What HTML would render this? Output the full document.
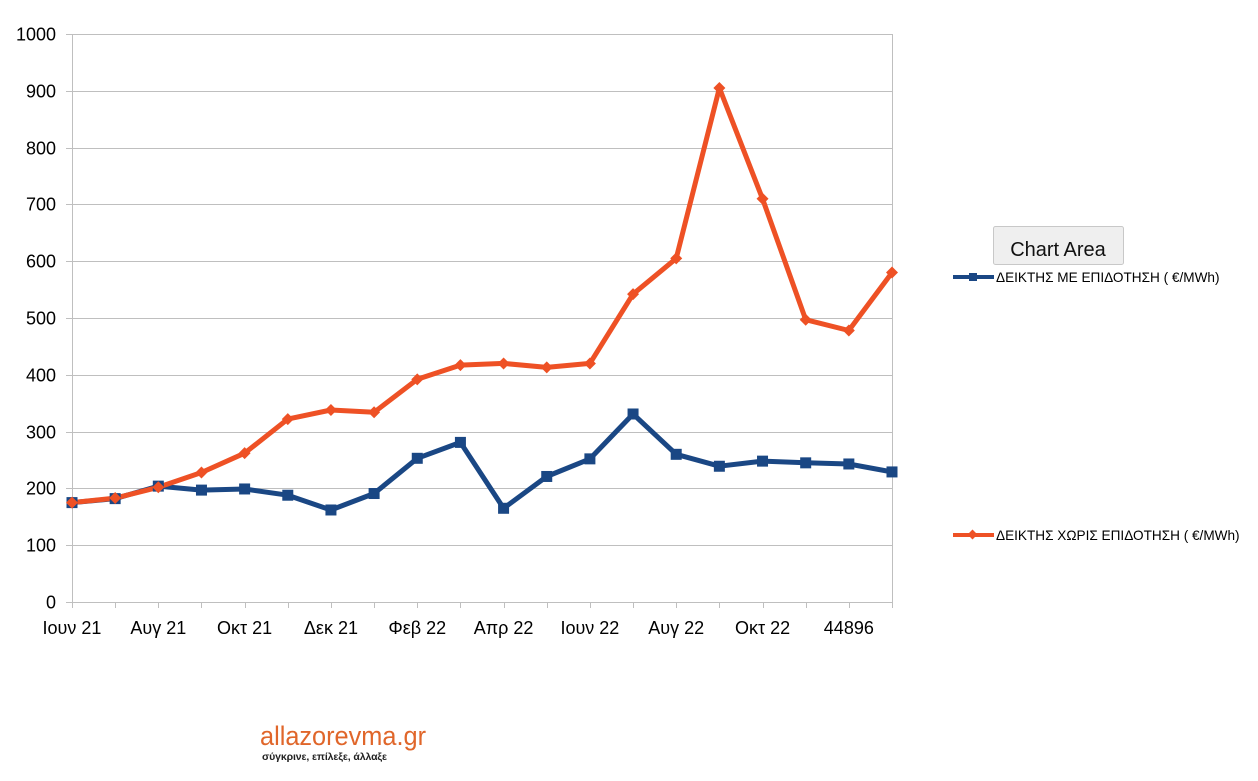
<!DOCTYPE html>
<html><head><meta charset="utf-8"><style>
body{margin:0;background:#fff;width:1258px;height:776px;overflow:hidden;font-family:"Liberation Sans",sans-serif}
</style></head><body>
<svg id="s" width="1258" height="776" xmlns="http://www.w3.org/2000/svg" font-family="Liberation Sans, sans-serif">
<g id="grid" stroke="#bfbfbf" stroke-width="1"></g>
<rect x="72.5" y="34.5" width="820" height="568" fill="none" stroke="#bfbfbf"/>
<g id="lab" font-size="18" fill="#000"></g>
<g id="ser"></g>
<rect x="993.5" y="226.5" width="130" height="38" rx="2" fill="#efefef" stroke="#c8c8c8"/>
<text x="1058" y="256" font-size="20" text-anchor="middle" fill="#111">Chart Area</text>
<line x1="953" y1="277" x2="994" y2="277" stroke="#1a4784" stroke-width="4"/>
<rect x="969" y="273" width="8" height="8" fill="#1a4784"/>
<text x="996" y="282" font-size="13.6">ΔΕΙΚΤΗΣ ΜΕ ΕΠΙΔΟΤΗΣΗ ( €/MWh)</text>
<line x1="953" y1="535" x2="994" y2="535" stroke="#ee5125" stroke-width="4"/>
<rect x="969" y="531" width="7" height="7" fill="#ee5125" transform="rotate(45 972.5 534.5)"/>
<text x="996" y="540" font-size="13.6">ΔΕΙΚΤΗΣ ΧΩΡΙΣ ΕΠΙΔΟΤΗΣΗ ( €/MWh)</text>
<text x="260" y="745" font-size="27" fill="#e0662a" textLength="166" lengthAdjust="spacingAndGlyphs">allazorevma.gr</text>
<text x="262" y="760" font-size="10.5" fill="#222" font-weight="bold" textLength="125">σύγκρινε, επίλεξε, άλλαξε</text>
</svg>
<script>
var NS="http://www.w3.org/2000/svg";
function el(p,t,a,txt){var e=document.createElementNS(NS,t);for(var k in a)e.setAttribute(k,a[k]);if(txt!=null)e.textContent=txt;document.getElementById(p).appendChild(e);return e;}
function X(i){return 72+i*820/19} function Y(v){return 602-v*0.568}
for(var v=0;v<=1000;v+=100){var y=Math.round(Y(v))+0.5;if(v>0&&v<1000)el('grid','line',{x1:72,x2:892,y1:y,y2:y});el('grid','line',{x1:66,x2:72,y1:y,y2:y});el('lab','text',{x:56,y:y+6,'text-anchor':'end'},v);}
for(var i=0;i<20;i++){var x=Math.round(X(i))+0.5;el('grid','line',{x1:x,x2:x,y1:602,y2:608});}
var L=["Ιουν 21","Αυγ 21","Οκτ 21","Δεκ 21","Φεβ 22","Απρ 22","Ιουν 22","Αυγ 22","Οκτ 22","44896"];
for(var j=0;j<10;j++)el('lab','text',{x:X(2*j),y:634,'text-anchor':'middle'},L[j]);
var B=[175,182,204,197,199,188,162,191,253,281,165,221,252,331,260,239,248,245,243,229];
var O=[175,183,202,228,262,322,338,334,392,417,420,413,420,542,605,905,710,497,478,580];
function pts(a){return a.map(function(v,i){return X(i).toFixed(1)+","+Y(v).toFixed(1)}).join(" ")}
el('ser','polyline',{points:pts(B),fill:'none',stroke:'#1a4784','stroke-width':5,'stroke-linejoin':'round'});
el('ser','polyline',{points:pts(O),fill:'none',stroke:'#ee5125','stroke-width':5,'stroke-linejoin':'round'});
B.forEach(function(v,i){el('ser','rect',{x:X(i)-5.5,y:Y(v)-5.5,width:11,height:11,fill:'#1a4784'})});
O.forEach(function(v,i){var x=X(i),y=Y(v);el('ser','polygon',{points:(x)+","+(y-6)+" "+(x+6)+","+y+" "+x+","+(y+6)+" "+(x-6)+","+y,fill:'#ee5125'})});
</script>
</body></html>
